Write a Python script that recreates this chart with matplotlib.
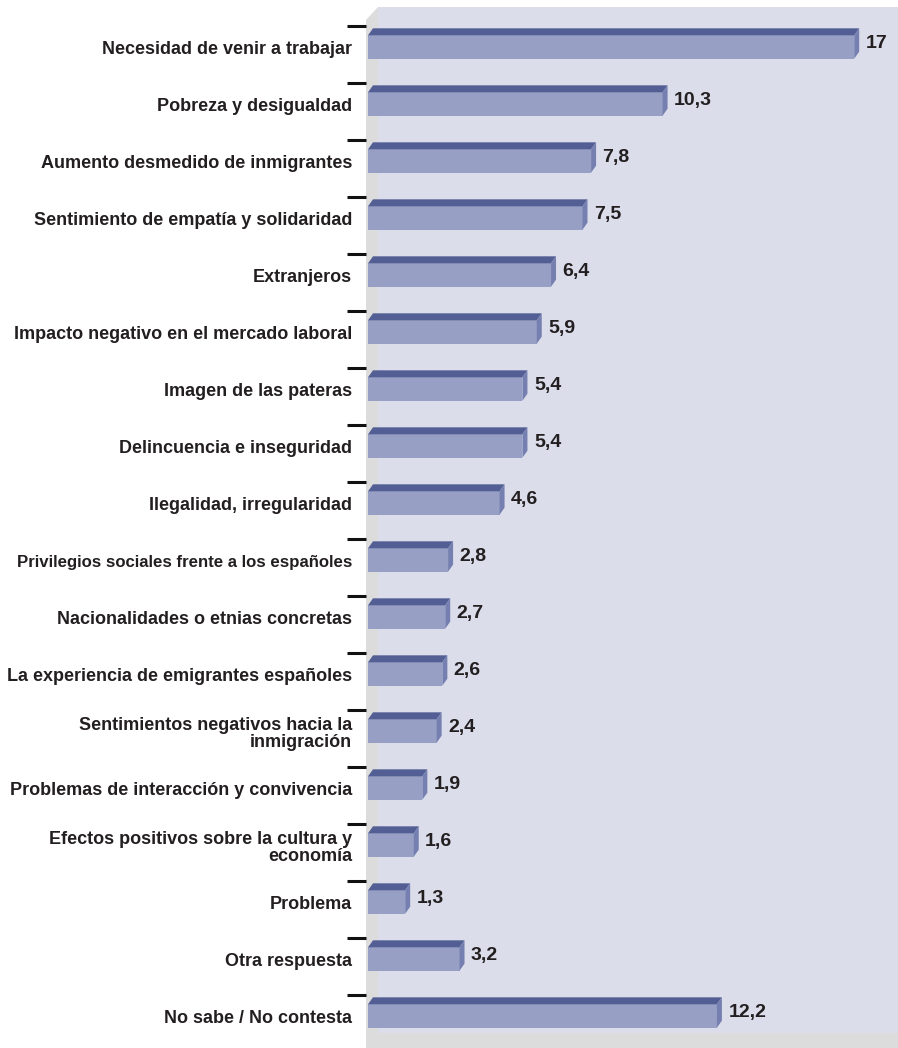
import matplotlib.pyplot as plt
from matplotlib.patches import Polygon, Rectangle

# Data
categories = [
    "Necesidad de venir a trabajar",
    "Pobreza y desigualdad",
    "Aumento desmedido de inmigrantes",
    "Sentimiento de empatía y solidaridad",
    "Extranjeros",
    "Impacto negativo en el mercado laboral",
    "Imagen de las pateras",
    "Delincuencia e inseguridad",
    "Ilegalidad, irregularidad",
    "Privilegios sociales frente a los españoles",
    "Nacionalidades o etnias concretas",
    "La experiencia de emigrantes españoles",
    "Sentimientos negativos hacia la\ninmigración",
    "Problemas de interacción y convivencia",
    "Efectos positivos sobre la cultura y\neconomía",
    "Problema",
    "Otra respuesta",
    "No sabe / No contesta",
]
values = [17, 10.3, 7.8, 7.5, 6.4, 5.9, 5.4, 5.4, 4.6, 2.8, 2.7, 2.6, 2.4, 1.9, 1.6, 1.3, 3.2, 12.2]
value_labels = ["17", "10,3", "7,8", "7,5", "6,4", "5,9", "5,4", "5,4", "4,6",
                "2,8", "2,7", "2,6", "2,4", "1,9", "1,6", "1,3", "3,2", "12,2"]

front_col = "#97a0c4"
top_col = "#525e94"
side_col = "#7580b0"
wall_col = "#dcddeb"
gray_col = "#dcdcdc"
text_col = "#231f20"

plt.rcParams['font.family'] = ['Liberation Sans', 'DejaVu Sans']

fig = plt.figure(figsize=(8.98, 10.48), dpi=100)
ax = fig.add_axes([366 / 898, 0, (898 - 366) / 898, 1])

px_x = 28.6   # pixels per unit
px_y = 57.0   # pixels per row
x0 = -2 / px_x
ax.set_xlim(x0, x0 + 532 / px_x)
ax.set_ylim((1048 - 47) / px_y, -47 / px_y)

# background: wall, left side and floor
wall_left = 10 / px_x
top = (7 - 47) / px_y
floor = (1033 - 47) / px_y
ax.add_patch(Rectangle((wall_left, top), 40, floor - top, facecolor=wall_col,
                       edgecolor='none', zorder=0))
ax.add_patch(Polygon([(x0, top + 13 / px_y), (wall_left, top), (wall_left, floor),
                      (x0, 20)], closed=True, facecolor=gray_col, edgecolor='none', zorder=0))
ax.add_patch(Rectangle((x0, floor), 40, 5, facecolor=gray_col, edgecolor='none', zorder=0))

h = 0.41
dx = 5 / px_x
dy = 7 / px_y
for i, v in enumerate(values):
    y_top = i - h / 2
    y_bot = i + h / 2
    ax.add_patch(Rectangle((0, y_top), v, h, facecolor=front_col, edgecolor='none', zorder=3))
    ax.add_patch(Polygon([(0, y_top), (dx, y_top - dy), (v + dx, y_top - dy), (v, y_top)],
                         closed=True, facecolor=top_col, edgecolor='none', zorder=3))
    ax.add_patch(Polygon([(v, y_top), (v + dx, y_top - dy), (v + dx, y_bot - dy), (v, y_bot)],
                         closed=True, facecolor=side_col, edgecolor='none', zorder=3))
    ax.text(v + 0.4, i - 0.07, value_labels[i], fontsize=14, fontweight='bold',
            color=text_col, ha='left', va='center', zorder=4)
    # the longest label is set tighter in the original
    fs = 12.1 if categories[i].startswith("Privilegios") else 13
    ax.text(-16 / px_x, i + 0.05, categories[i], fontsize=fs, fontweight='bold', color=text_col,
            ha='right', va='center', linespacing=1.05, clip_on=False)

ax.set_yticks([i - 0.37 for i in range(len(values))])
ax.set_yticklabels([])
ax.tick_params(axis='y', length=14, width=2.2, color='#111111', direction='out')
ax.set_xticks([])
for s in ax.spines.values():
    s.set_visible(False)

fig.savefig("out.png", dpi=100, facecolor='white')
